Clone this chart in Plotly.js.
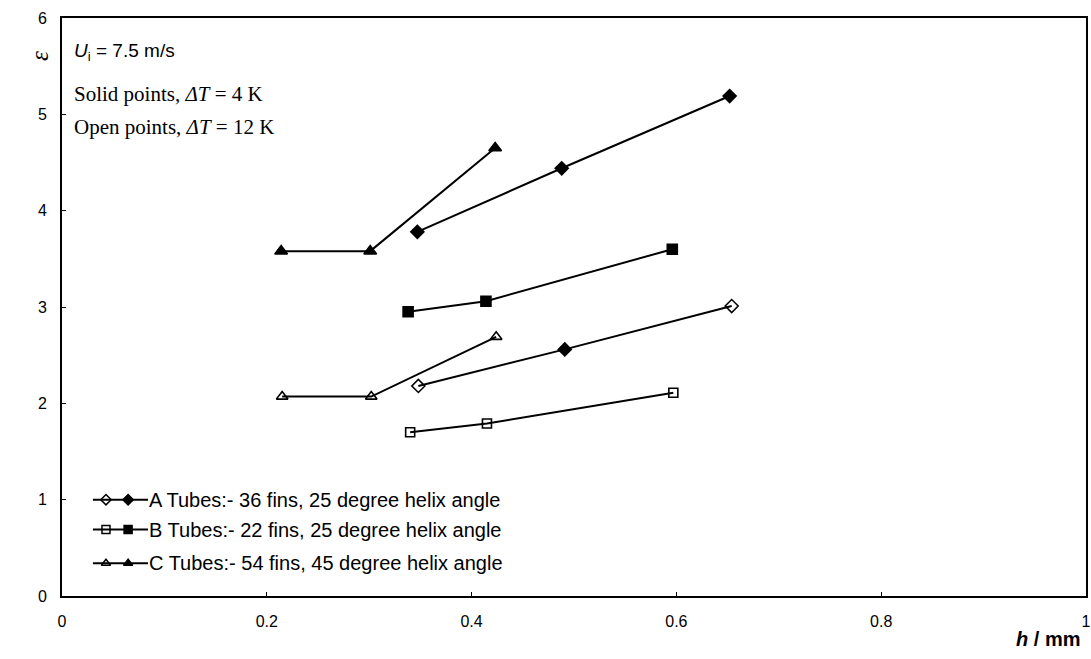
<!DOCTYPE html>
<html>
<head>
<meta charset="utf-8">
<script src="https://cdn.plot.ly/plotly-3.0.1.min.js"></script>
<style>html,body{margin:0;padding:0;background:#fff;}#chart{width:1091px;height:659px;}</style>
</head>
<body>
<div id="chart"></div>
<script>
// ---- data (h in mm, epsilon) ----
var aSolidH = [0.347, 0.488, 0.652];
var aSolidE = [3.78, 4.44, 5.19];
var aOpenH  = [0.348, 0.491, 0.654];
var aOpenE  = [2.18, 2.56, 3.01];
var bSolidH = [0.338, 0.414, 0.596];
var bSolidE = [2.95, 3.06, 3.60];
var bOpenH  = [0.340, 0.415, 0.597];
var bOpenE  = [1.70, 1.79, 2.11];
var cSolidH = [0.214, 0.301, 0.423];
var cSolidE = [3.58, 3.58, 4.65];
var cOpenH  = [0.215, 0.302, 0.424];
var cOpenE  = [2.07, 2.07, 2.69];

var xTicks = [0, 0.2, 0.4, 0.6, 0.8, 1];
var xTickText = ["0", "0.2", "0.4", "0.6", "0.8", "1"];
var yTicks = [0, 1, 2, 3, 4, 5, 6];
var yTickText = ["0", "1", "2", "3", "4", "5", "6"];

var legendNames = [
  "A Tubes:- 36 fins, 25 degree helix angle",
  "B Tubes:- 22 fins, 25 degree helix angle",
  "C Tubes:- 54 fins, 45 degree helix angle"
];
var legendRows = [1.0, 0.69, 0.34];
var legendSymbols = [["diamond-open", "diamond"], ["square-open", "square"], ["triangle-up-open", "triangle-up"]];

var K = "#000";
function series(x, y, sym, size) {
  return {
    x: x, y: y, type: "scatter", mode: "lines+markers", showlegend: false,
    line: {color: K, width: 2},
    marker: {symbol: sym, size: size, color: K, line: {color: K, width: 1.6}},
    hoverinfo: "x+y"
  };
}

var traces = [
  series(aSolidH, aSolidE, "diamond", 10),
  series(aOpenH, aOpenE, ["diamond-open", "diamond", "diamond-open"], 10),
  series(bSolidH, bSolidE, "square", 10),
  series(bOpenH, bOpenE, "square-open", 9),
  series(cSolidH, cSolidE, "triangle-up", 11),
  series(cOpenH, cOpenE, "triangle-up-open", 10)
];

// legend glyphs drawn on a hidden helper axis
legendRows.forEach(function (ry, i) {
  traces.push({
    x: [0, 1], y: [ry, ry], xaxis: "x2", yaxis: "y", type: "scatter", mode: "lines",
    line: {color: K, width: 2}, showlegend: false, hoverinfo: "skip"
  });
  traces.push({
    x: [0.24, 0.64], y: [ry, ry], xaxis: "x2", yaxis: "y", type: "scatter", mode: "markers",
    marker: {symbol: legendSymbols[i], size: 8, color: K, line: {color: K, width: 1.5}},
    showlegend: false, hoverinfo: "skip"
  });
});

var annotations = [
  {xref: "paper", yref: "paper", x: 0.010, y: 0.942, xanchor: "left", yanchor: "middle", showarrow: false,
   text: "<i>U</i><sub>i</sub> = 7.5 m/s", font: {family: "Liberation Sans, Arial, sans-serif", size: 19, color: K}},
  {xref: "paper", yref: "paper", x: 0.010, y: 0.868, xanchor: "left", yanchor: "middle", showarrow: false,
   text: "Solid points, <i>ΔT</i> = 4 K", font: {family: "Liberation Serif, Times New Roman, serif", size: 21, color: K}},
  {xref: "paper", yref: "paper", x: 0.010, y: 0.811, xanchor: "left", yanchor: "middle", showarrow: false,
   text: "Open points, <i>ΔT</i> = 12 K", font: {family: "Liberation Serif, Times New Roman, serif", size: 21, color: K}},
  {xref: "paper", yref: "paper", x: -0.022, y: 0.935, xanchor: "center", yanchor: "middle", showarrow: false, textangle: -90,
   text: "<i>ε</i>", font: {family: "Liberation Serif, Times New Roman, serif", size: 25, color: K}},
  {xref: "paper", yref: "paper", x: 0.996, y: -0.075, xanchor: "right", yanchor: "middle", showarrow: false,
   text: "<b><i>h</i> / mm</b>", font: {family: "Liberation Sans, Arial, sans-serif", size: 20, color: K}}
];
legendRows.forEach(function (ry, i) {
  annotations.push({xref: "paper", yref: "y", x: 0.083, y: ry, xanchor: "left", yanchor: "middle", showarrow: false,
    text: legendNames[i], font: {family: "Liberation Sans, Arial, sans-serif", size: 20, color: K}});
});

var layout = {
  width: 1091, height: 659,
  margin: {l: 62, r: 5, t: 18, b: 63},
  paper_bgcolor: "#fff", plot_bgcolor: "#fff",
  showlegend: false,
  font: {family: "Liberation Sans, Arial, sans-serif", size: 16, color: K},
  xaxis: {
    range: [0, 1], tickvals: xTicks, ticktext: xTickText, ticks: "inside", ticklen: 4, tickcolor: K,
    showline: true, mirror: true, linecolor: K, linewidth: 2, showgrid: false, zeroline: false,
    ticklabelstandoff: 10, ticklabeloverflow: "allow", tickfont: {size: 16}
  },
  xaxis2: {domain: [0.030, 0.084], range: [0, 1], anchor: "y", visible: false, showgrid: false, zeroline: false},
  yaxis: {
    range: [0, 6], tickvals: yTicks, ticktext: yTickText, ticks: "inside", ticklen: 4, tickcolor: K,
    showline: true, mirror: true, linecolor: K, linewidth: 2, showgrid: false, zeroline: false,
    ticklabelstandoff: 10, tickfont: {size: 16}
  },
  annotations: annotations
};

Plotly.newPlot("chart", traces, layout, {displayModeBar: false, staticPlot: true});
</script>
</body>
</html>
